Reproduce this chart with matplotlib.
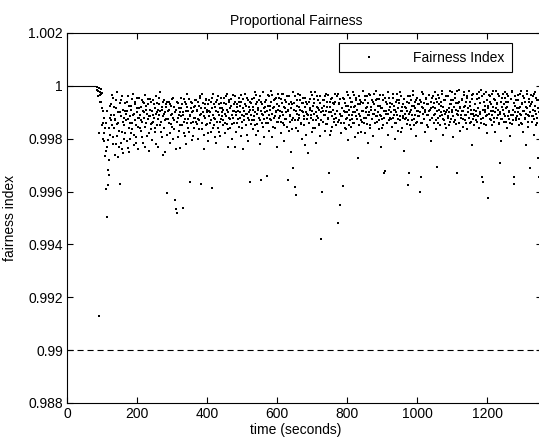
import numpy as np
import matplotlib
matplotlib.use("Agg")
import matplotlib.pyplot as plt
from matplotlib.ticker import FuncFormatter

plt.rcParams["font.family"] = ["Liberation Sans", "DejaVu Sans"]
plt.rcParams["font.size"] = 10

# fairness index samples, stored as (1 - index) * 1e5
# even seconds from t = 86 s
deficit_even = [
    5, 20, 871, 178, 35, 12, 60, 28, 95, 140, 210, 160, 245, 390, 496, 375, 318, 337, 120, 185,
    70, 150, 220, 45, 110, 260, 130, 85, 190, 25, 140, 230, 371, 100, 55, 175, 240, 90, 120, 200,
    65, 130, 210, 95, 40, 160, 250, 115, 75, 180, 140, 30, 225, 105, 60, 150, 195, 85, 120, 240,
    45, 110, 170, 80, 135, 215, 60, 100, 155, 35, 90, 190, 125, 70, 245, 115, 50, 165, 95, 140,
    55, 120, 85, 175, 40, 100, 150, 230, 70, 110, 25, 135, 195, 90, 60, 160, 105, 250, 80, 125,
    405, 95, 140, 60, 180, 110, 75, 155, 200, 45, 130, 432, 466, 90, 481, 120, 65, 170, 100, 235,
    85, 150, 462, 110, 50, 190, 125, 70, 140, 30, 95, 175, 364, 115, 60, 205, 100, 135, 80, 160,
    120, 55, 145, 90, 200, 75, 130, 40, 371, 105, 165, 65, 115, 240, 85, 150, 50, 100, 180, 70,
    95, 140, 60, 175, 386, 110, 30, 150, 80, 125, 215, 55, 100, 160, 70, 135, 190, 45, 115, 85,
    130, 65, 105, 180, 40, 145, 90, 230, 120, 55, 160, 75, 110, 200, 35, 95, 140, 60, 175, 100,
    70, 125, 45, 155, 100, 190, 60, 135, 85, 240, 115, 30, 150, 75, 105, 210, 55, 130, 364, 90,
    110, 50, 165, 80, 130, 25, 100, 185, 60, 145, 90, 120, 220, 40, 356, 105, 70, 155, 85, 125,
    60, 140, 341, 95, 35, 170, 110, 75, 130, 20, 195, 85, 120, 55, 160, 100, 45, 230, 90, 135,
    75, 115, 50, 180, 100, 140, 30, 210, 85, 125, 60, 155, 356, 95, 40, 135, 110, 250, 70, 165,
    311, 90, 383, 130, 413, 55, 105, 170, 80, 120, 35, 145, 95, 200, 65, 115, 150, 45, 185, 100,
    125, 254, 60, 140, 90, 25, 110, 175, 75, 130, 50, 160, 100, 215, 40, 120, 85, 145, 65, 190,
    579, 402, 95, 135, 55, 170, 110, 30, 145, 80, 120, 330, 60, 185, 100, 45, 155, 90, 125, 70,
    105, 150, 40, 95, 519, 130, 65, 451, 115, 180, 85, 379, 140, 50, 100, 165, 75, 120, 35, 205,
    90, 130, 60, 155, 110, 25, 140, 80, 195, 100, 45, 125, 273, 70, 150, 115, 55, 175, 95, 135,
    65, 120, 180, 40, 100, 145, 80, 215, 110, 30, 160, 90, 125, 55, 190, 105, 70, 140, 20, 115,
    135, 75, 165, 50, 110, 230, 85, 125, 35, 150, 330, 322, 95, 60, 140, 105, 185, 45, 120, 80,
    100, 155, 30, 120, 75, 200, 90, 140, 55, 110, 170, 65, 130, 25, 95, 160, 80, 115, 245, 50,
    125, 85, 145, 60, 375, 330, 105, 40, 165, 90, 130, 20, 150, 75, 110, 190, 55, 135, 95, 70,
    115, 402, 60, 345, 140, 85, 30, 125, 100, 175, 50, 110, 155, 70, 35, 130, 90, 210, 45, 120,
    80, 140, 25, 105, 165, 307, 60, 120, 90, 45, 150, 75, 110, 20, 185, 95, 130, 55, 100, 160,
    40, 115, 85, 150, 20, 125, 70, 100, 195, 55, 135, 30, 90, 145, 330, 65, 110, 15, 170, 80,
    120, 50, 95, 155, 25, 130, 75, 110, 40, 165, 85, 20, 140, 60, 105, 225, 35, 125, 90, 150,
    70, 110, 30, 135, 85, 160, 45, 100, 15, 125, 345, 365, 60, 145, 90, 25, 115, 180, 424, 75,
    105, 40, 130, 70, 150, 20, 95, 120, 55, 175, 85, 65, 30, 110, 140, 292, 100, 210, 45, 125,
    90, 135, 25, 115, 60, 160, 80, 40, 125, 100, 190, 50, 145, 20, 110, 345, 370, 75, 130, 55,
    115, 35, 150, 85, 105, 20, 140, 65, 175, 95, 45, 125, 80, 225, 30, 110, 155, 60, 311, 100,
    70, 135, 40, 115, 185, 25, 95, 150, 55, 120, 273, 345, 80, 105, 30, 160, 90, 125, 45, 140,
]
# odd seconds from t = 87 s
deficit_odd = [
    15, 40, 8, 25, 60, 30, 150, 85, 200, 120, 180, 265, 140, 230, 95, 205, 160, 280, 75, 130,
    110, 35, 195, 160, 80, 125, 220, 55, 145, 100, 270, 170, 65, 115, 215, 40, 135, 255, 150, 95,
    180, 105, 60, 235, 125, 75, 140, 200, 90, 50, 165, 110, 185, 70, 130, 215, 100, 45, 155, 120,
    85, 160, 130, 55, 195, 95, 120, 65, 230, 140, 75, 105, 50, 180, 115, 90, 145, 60, 205, 110,
    135, 70, 160, 105, 220, 65, 90, 125, 45, 150, 95, 175, 80, 115, 260, 55, 130, 100, 70, 185,
    60, 125, 90, 215, 70, 145, 105, 50, 120, 165, 80, 100, 240, 60, 135, 195, 85, 110, 150, 45,
    115, 70, 100, 180, 135, 60, 95, 220, 80, 125, 160, 50, 110, 85, 140, 65, 190, 95, 120, 55,
    75, 135, 95, 60, 125, 165, 45, 110, 85, 140, 30, 100, 185, 70, 120, 55, 145, 90, 210, 115,
    55, 100, 130, 85, 45, 160, 120, 70, 195, 95, 60, 135, 40, 110, 175, 85, 125, 65, 100, 150,
    90, 45, 140, 70, 115, 30, 100, 165, 60, 125, 85, 50, 145, 95, 120, 70, 230, 40, 110, 80,
    140, 95, 60, 120, 75, 35, 110, 160, 50, 95, 130, 70, 105, 185, 45, 120, 80, 100, 60, 145,
    65, 130, 90, 45, 115, 150, 70, 35, 105, 85, 170, 55, 130, 95, 60, 140, 25, 110, 195, 80,
    100, 55, 120, 75, 140, 40, 90, 125, 60, 105, 35, 155, 80, 115, 50, 95, 135, 70, 30, 120,
    45, 95, 135, 65, 30, 110, 80, 150, 55, 100, 125, 40, 90, 170, 70, 115, 60, 85, 130, 25,
    120, 65, 40, 160, 95, 75, 130, 30, 110, 55, 90, 140, 65, 100, 45, 125, 80, 225, 60, 105,
    70, 110, 140, 50, 85, 120, 35, 95, 160, 65, 105, 25, 130, 80, 115, 55, 90, 150, 40, 100,
    130, 85, 55, 110, 75, 40, 145, 95, 60, 125, 35, 100, 80, 170, 50, 115, 90, 65, 135, 30,
    60, 120, 95, 30, 135, 70, 105, 50, 140, 85, 115, 45, 95, 160, 65, 125, 25, 100, 75, 150,
    110, 45, 80, 125, 60, 100, 35, 140, 75, 115, 55, 90, 180, 40, 105, 70, 130, 60, 95, 20,
    95, 140, 55, 85, 120, 40, 110, 65, 100, 150, 35, 80, 125, 60, 105, 30, 140, 90, 55, 115,
    50, 100, 130, 75, 35, 115, 85, 160, 55, 95, 120, 45, 105, 70, 140, 25, 90, 130, 65, 100,
    125, 70, 45, 110, 90, 140, 60, 100, 30, 85, 125, 55, 115, 175, 40, 95, 70, 120, 50, 105,
    80, 120, 95, 40, 130, 65, 100, 150, 55, 110, 75, 35, 125, 85, 60, 140, 95, 45, 115, 70,
    100, 55, 140, 80, 25, 105, 65, 125, 90, 45, 150, 70, 110, 35, 95, 130, 60, 85, 120, 40,
    65, 110, 85, 130, 50, 95, 35, 140, 70, 115, 60, 100, 30, 125, 80, 55, 105, 145, 40, 90,
    120, 40, 100, 70, 135, 55, 90, 25, 115, 80, 45, 130, 65, 105, 20, 95, 140, 60, 85, 110,
    55, 95, 125, 35, 80, 110, 60, 140, 45, 100, 20, 120, 75, 90, 135, 50, 105, 30, 115, 70,
    95, 130, 50, 85, 115, 25, 105, 65, 140, 40, 90, 120, 30, 100, 75, 150, 55, 110, 85, 35,
    125, 60, 95, 30, 110, 80, 135, 50, 100, 20, 120, 70, 90, 145, 40, 105, 60, 125, 80, 30,
    70, 105, 45, 135, 85, 30, 115, 60, 95, 140, 50, 110, 25, 90, 130, 65, 100, 40, 120, 85,
    100, 55, 125, 80, 30, 110, 70, 145, 40, 95, 120, 60, 105, 20, 85, 135, 50, 115, 75, 35,
    60, 115, 90, 30, 125, 75, 105, 45, 140, 85, 55, 100, 130, 35, 95, 70, 120, 50, 110, 80,
]
warmup_end = 80
threshold = 0.99

time_s = np.concatenate([86 + 2 * np.arange(len(deficit_even)),
                         87 + 2 * np.arange(len(deficit_odd))])
fairness = 1 - np.array(deficit_even + deficit_odd) * 1e-5

fig = plt.figure(figsize=(5.39, 4.4), dpi=100)
ax = fig.add_axes([0.1243, 0.0841, 0.8813, 0.8409])

ax.plot([0, warmup_end], [1, 1], color="k", linewidth=0.8)
ax.plot(time_s, fairness, linestyle="none", marker="s", markersize=1.8,
        markeredgewidth=0, color="k", label="Fairness Index")
ax.axhline(threshold, color="k", linewidth=0.8, dashes=(5.5, 3.5))

ax.set_xlim(0, 1357)
ax.set_ylim(0.988, 1.002)
ax.set_xticks(np.arange(0, 1201, 200))
ax.set_yticks(np.arange(0.988, 1.0021, 0.002))
ax.yaxis.set_major_formatter(FuncFormatter(lambda v, p: "%g" % round(v, 3)))
ax.tick_params(direction="in", length=4, width=0.8, top=True, right=True,
               labelsize=10, pad=3)
for sp in ax.spines.values():
    sp.set_linewidth(0.8)

ax.set_title("Proportional Fairness", fontsize=10, x=0.482, pad=6)
ax.set_xlabel("time (seconds)", fontsize=10, labelpad=0)
ax.xaxis.set_label_coords(0.482, -0.055)
ax.set_ylabel("fairness index", fontsize=10)
ax.yaxis.set_label_coords(-0.105, 0.5)

leg = ax.legend(loc="upper right", bbox_to_anchor=(0.937, 0.973), borderaxespad=0,
                fancybox=False, edgecolor="k", framealpha=1, markerscale=0.9,
                handlelength=3.2, handletextpad=1.6, borderpad=0.55)
leg.get_frame().set_linewidth(0.8)

fig.savefig("out.png", dpi=100)
